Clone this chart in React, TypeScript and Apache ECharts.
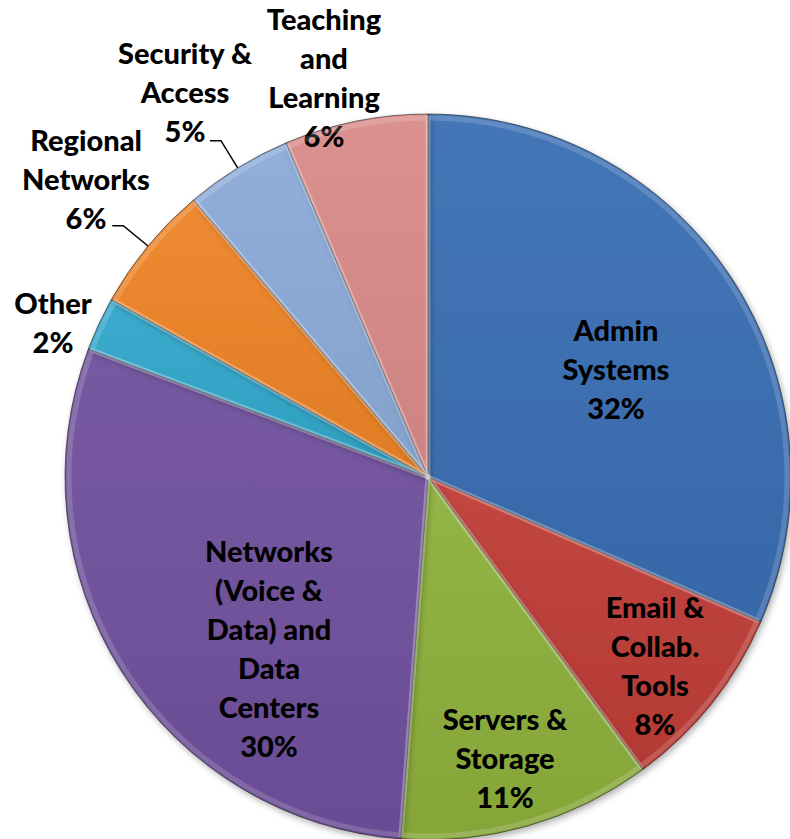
import React, { useEffect, useRef } from "react";
import * as echarts from "echarts";

// ---- data ----
const categories = [
  "Admin\nSystems",
  "Email &\nCollab.\nTools",
  "Servers &\nStorage",
  "Networks\n(Voice &\nData) and\nData\nCenters",
  "Other",
  "Regional\nNetworks",
  "Security &\nAccess",
  "Teaching\nand\nLearning",
];
const values = [31.6, 8.4, 11.3, 29.6, 2.4, 5.7, 4.8, 6.4];

// ---- styles / layout ----
const colors = ["#3a6fb4", "#bf3d37", "#8db03c", "#70519d", "#31a7cb", "#ee8427", "#8babd8", "#d98b8a"];
const labelPlacement = ["inside", "inside", "inside", "inside", "outside", "outside", "outside", "outside"];
const leaderLines = [false, false, false, false, false, true, true, false];
const labelCenters = [
  [616, 368],
  [655, 665],
  [505, 757],
  [269, 648],
  [53, 322],
  [86, 178],
  [185, 91],
  [324, 77],
];

function shade(hex: string, amt: number): string {
  const n = parseInt(hex.slice(1), 16);
  let r = (n >> 16) & 255, g = (n >> 8) & 255, b = n & 255;
  const f = (c: number) => {
    const v = amt >= 0 ? c + (255 - c) * amt : c * (1 + amt);
    return Math.max(0, Math.min(255, Math.round(v)));
  };
  r = f(r); g = f(g); b = f(b);
  return "#" + ((1 << 24) | (r << 16) | (g << 8) | b).toString(16).slice(1);
}

export default function App() {
  const ref = useRef<HTMLDivElement>(null);
  useEffect(() => {
    if (!ref.current) return;
    const chart = echarts.init(ref.current, undefined, { renderer: "svg" });
    const data = categories.map((name, i) => ({
      name,
      value: values[i],
      itemStyle: {
        color: new echarts.graphic.LinearGradient(0, 0, 0, 1, [
          { offset: 0, color: shade(colors[i], 0.05) },
          { offset: 1, color: shade(colors[i], -0.06) },
        ]),
      },
      label: { position: labelPlacement[i] },
      labelLine: { show: leaderLines[i] },
    }));
    chart.setOption({
      animation: false,
      backgroundColor: "#ffffff",
      series: [
        {
          type: "pie",
          center: [428, 477],
          radius: [0, 363],
          startAngle: 90,
          clockwise: true,
          avoidLabelOverlap: false,
          data,
          itemStyle: {
            borderColor: "rgba(30,30,30,0.6)",
            borderWidth: 1,
            shadowBlur: 6,
            shadowColor: "rgba(0,0,0,0.3)",
            shadowOffsetX: 2,
            shadowOffsetY: 3,
          },
          emphasis: { disabled: true },
          label: {
            show: true,
            formatter: (p: any) => `${p.name}\n${Math.round(p.percent)}%`,
            fontFamily: "Lato",
            fontWeight: 900,
            fontSize: 29,
            lineHeight: 39,
            color: "#000000",
            align: "center",
          },
          labelLine: {
            show: false,
            length: 32,
            length2: 11,
            lineStyle: { color: "#000000", width: 1.5 },
          },
          labelLayout: (params: any) => {
            const c = labelCenters[params.dataIndex];
            const out: any = { x: c[0], y: c[1], align: "center", verticalAlign: "middle" };
            if (params.labelLinePoints) out.labelLinePoints = params.labelLinePoints;
            return out;
          },
        },
        {
          type: "pie",
          center: [428, 477],
          radius: [0, 359],
          startAngle: 90,
          clockwise: true,
          silent: true,
          z: 3,
          data: categories.map((name, i) => ({ name, value: values[i] })),
          itemStyle: {
            color: "rgba(255,255,255,0)",
            borderColor: "rgba(255,255,255,0.16)",
            borderWidth: 5,
          },
          label: { show: false },
          labelLine: { show: false },
          emphasis: { disabled: true },
        },
      ],
    });
    return () => chart.dispose();
  }, []);
  return (
    <div
      ref={ref}
      style={{ position: "fixed", left: 0, top: 0, width: 790, height: 839 }}
    />
  );
}
